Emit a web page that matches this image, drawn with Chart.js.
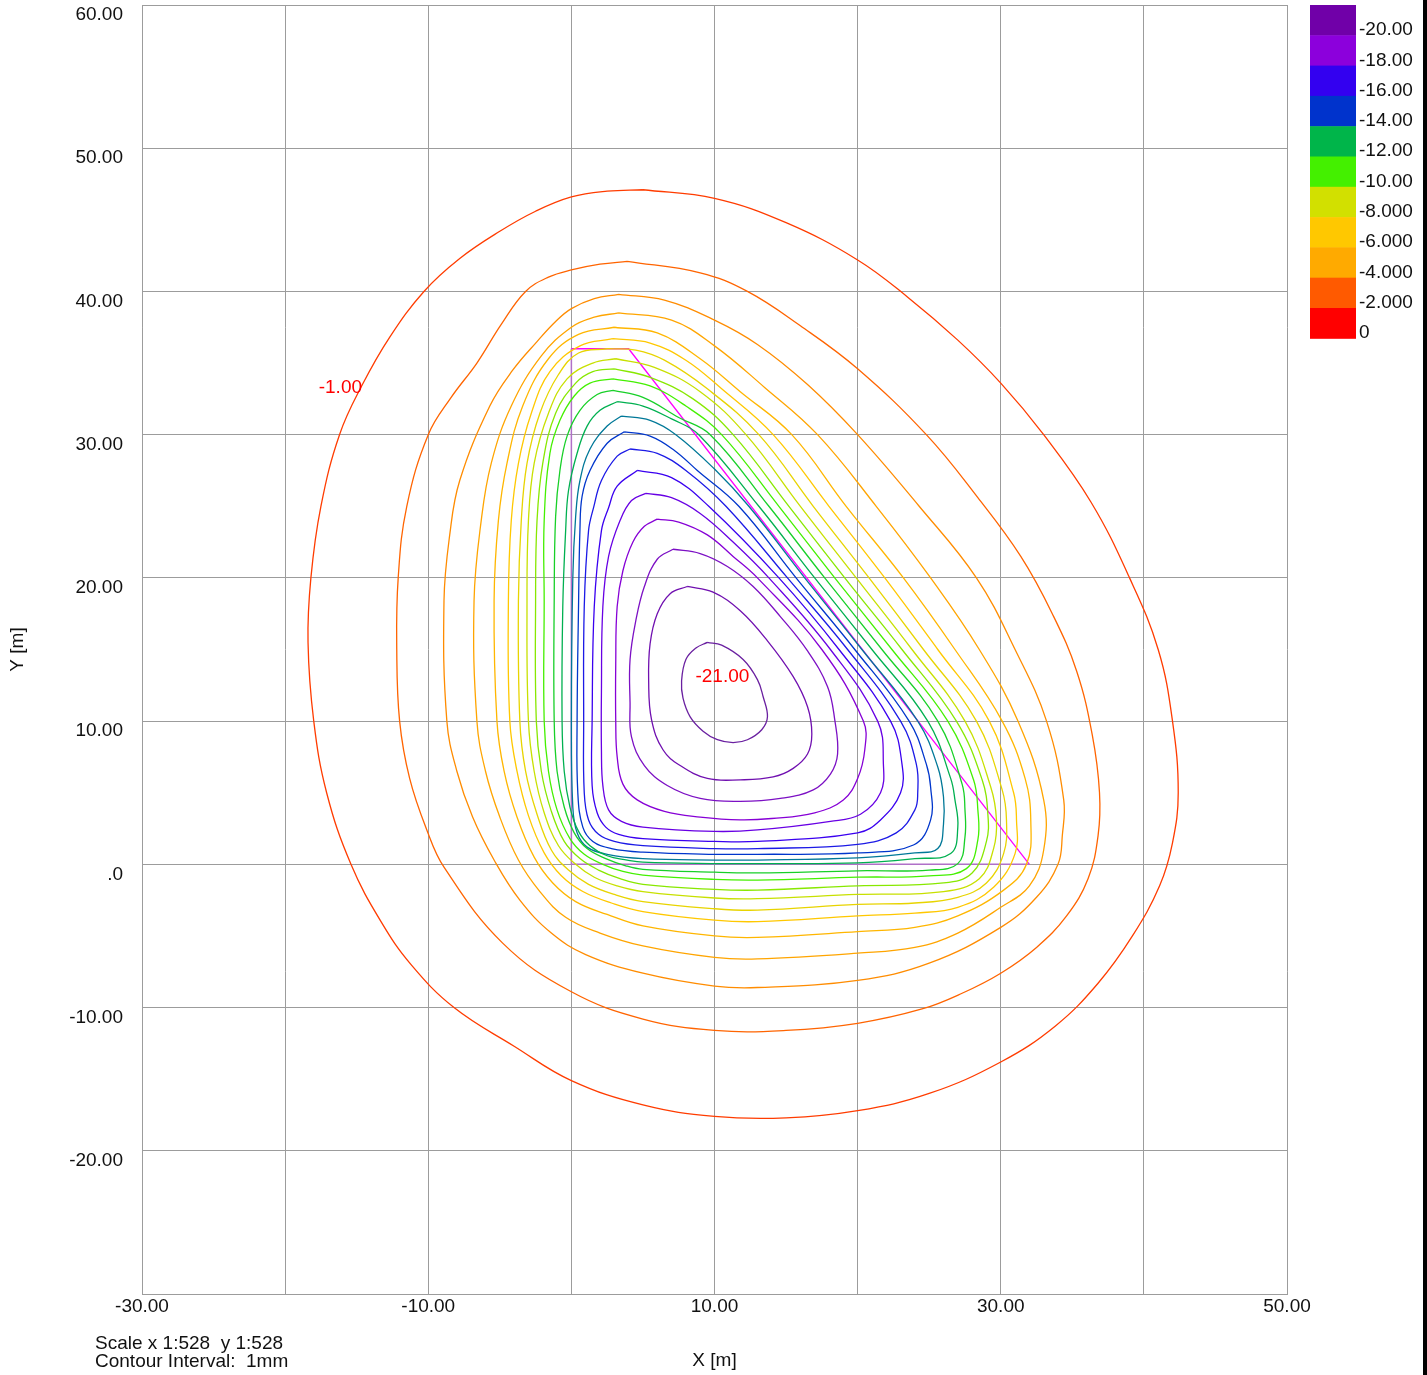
<!DOCTYPE html>
<html>
<head>
<meta charset="utf-8">
<title>Settlement contours</title>
<script src="https://cdn.jsdelivr.net/npm/chart.js@4.4.1/dist/chart.umd.min.js"></script>
<style>
  html, body { margin: 0; padding: 0; background: #fff; }
  #wrap { width: 1427px; height: 1375px; }
</style>
</head>
<body>
<div id="wrap"><canvas id="plot" width="1427" height="1375"></canvas></div>
<script>
// contour levels (mm) and their line colours
const contourLevels = [-1, -2, -3, -4, -5, -6, -7, -8, -9, -10, -11, -12, -13, -14, -15, -16, -17, -18, -19, -20, -21];
const contourColors = ['#ff3c00', '#ff6400', '#ff8c00', '#ffa500', '#ffb600', '#ffc800', '#e8d400', '#c8e000', '#88e800', '#44f000',
                       '#18d028', '#00b050', '#007898', '#0036cc', '#1c1ae6', '#3a00f0', '#6800e4', '#8600d6', '#7c10c4', '#7010b0', '#6a20a0'];

// contour lines, [x, y] in metres
const contour_m1 = [[5,47.1],[10,46.5],[15,44.8],[20,42.2],[23.5,39.6],[27,36.6],[30,33.6],[33,30],[36.3,25.3],[39.0,20],[41.0,15],[42.0,10],[42.4,5],[42.0,1.5],[41.1,-1.5],[39.2,-5],[36.8,-8.3],[33.8,-11.3],[30,-13.8],[25,-16.0],[20,-17.2],[15,-17.7],[10,-17.6],[5,-16.8],[0,-15.1],[-4,-12.7],[-8.2,-10],[-11.2,-7],[-13.3,-4],[-15.4,0],[-17.1,5],[-18.0,10],[-18.4,15.5],[-18.2,20],[-17.5,25],[-16.2,30],[-14.6,33.5],[-12.7,36.8],[-10.3,40],[-7.8,42.3],[-5,44.2],[-2.5,45.6],[0,46.6],[2.5,47.0],[5,47.1]];
const contour_m2 = [[3.9,42.1],[9,41.3],[12.3,40],[16,37.6],[20,34.6],[24.8,30],[28.4,25.6],[31.4,21.5],[33.6,17.5],[35.3,13.5],[36.4,9],[36.9,5],[36.8,2],[36.1,-1],[34.6,-3.6],[32.5,-5.8],[30,-7.6],[27.3,-9],[24.5,-10.1],[20,-11.1],[15,-11.6],[10,-11.6],[5,-10.8],[0,-8.9],[-4.8,-5.5],[-8.9,-0.2],[-10.1,2.4],[-11.3,6],[-12,10],[-12.2,15],[-12.1,20],[-11.5,25],[-10,30],[-8.4,32.6],[-6.6,35],[-4.9,37.7],[-3.2,40],[-1.6,41.0],[0,41.5],[2,41.9],[3.9,42.1]];
const contour_m3 = [[3.3,39.8],[6.5,39.4],[10,38.0],[13,36.3],[16.5,33.5],[20,30],[24.3,25],[28.3,20],[31.0,15],[33.2,10],[34.4,4.5],[34.3,2],[34.0,0],[32.5,-2.3],[30,-4.4],[25,-6.9],[20,-8.1],[13,-8.6],[10,-8.5],[5,-7.6],[1,-6.3],[-1.4,-4.8],[-3.6,-2.5],[-5.4,0.3],[-6.9,3.3],[-8.0,6.5],[-8.7,10],[-8.9,18.4],[-8.5,23],[-7.8,26.8],[-5.7,32],[-4.1,34.5],[-2.4,36.5],[-1.1,37.9],[0,38.8],[1.6,39.5],[3.3,39.8]];
const contour_m4 = [[3.3,38.5],[7,38.0],[10,36.2],[13.5,33.3],[17.2,30],[21.3,25],[25.1,20],[28.5,15],[31.2,10],[33.0,4.5],[33.0,1],[32.0,-1.5],[30,-3.0],[27,-4.8],[24,-5.8],[20,-6.2],[13,-6.6],[10,-6.5],[5,-5.7],[2,-4.8],[-0.4,-3.7],[-2.2,-1.9],[-3.7,0.3],[-5.0,3.3],[-6.0,6.5],[-6.6,10],[-6.8,18.4],[-6.3,24],[-5.6,28],[-4.2,32],[-2.1,35.5],[0,37.5],[1.6,38.2],[3.3,38.5]];
const contour_m5 = [[3.0,37.5],[6,37.1],[9,35.3],[11.8,33],[15.4,30],[19.2,25],[23.2,20],[26.8,15],[30.1,10],[31.7,6],[32.1,3],[31.8,0],[30.2,-1.8],[27,-3.6],[24,-4.4],[20,-4.7],[13,-5.1],[10,-5.0],[5,-4.3],[2.5,-3.5],[0.3,-2.6],[-1.3,-1.3],[-2.6,0.5],[-3.8,3.3],[-4.7,6.5],[-5.2,10],[-5.4,18.4],[-5.1,24],[-4.5,28],[-3.4,32],[-1.6,35.3],[0.5,37.0],[3.0,37.5]];
const contour_m6 = [[2.9,36.7],[5.5,36.4],[8,35.2],[10.5,33.2],[14.1,30],[18.0,25],[21.9,20],[25.6,15],[29.2,10],[30.9,5],[31.1,3.1],[31.0,0.75],[29.5,-1.6],[27,-3.0],[24,-3.4],[20,-3.6],[13,-4.0],[10,-3.9],[5,-3.3],[2.8,-2.7],[0.8,-1.9],[-0.7,-0.8],[-1.9,0.8],[-3.0,3.4],[-3.8,6.5],[-4.3,10],[-4.4,18.4],[-4.2,24],[-3.7,28],[-2.8,31.5],[-1.5,34.4],[0.6,36.2],[2.9,36.7]];
const contour_m7 = [[2.5,36.0],[4.5,35.9],[6.5,35.2],[9.5,33.2],[13.1,30],[16.9,25],[20.8,20],[24.6,15],[28.3,10],[30.1,5.2],[30.4,3.1],[30.2,0.75],[29,-1.3],[27,-2.3],[24,-2.7],[20,-2.8],[13,-3.2],[10,-3.1],[5,-2.6],[3.0,-2.1],[1.2,-1.4],[-0.2,-0.4],[-1.4,1.0],[-2.4,3.5],[-3.2,6.5],[-3.6,10],[-3.7,18.4],[-3.5,24],[-3.1,28],[-2.2,31.5],[-0.9,34.2],[0.5,35.7],[2.5,36.0]];
const contour_m8 = [[3.1,35.3],[5.8,34.7],[9,33],[12.2,30],[16.0,25],[19.9,20],[23.8,15],[27.5,10],[29.3,5.4],[29.7,3.1],[29.5,1.1],[28.5,-1],[26,-1.9],[20,-2.1],[13,-2.4],[10,-2.35],[5,-1.9],[3.2,-1.5],[1.6,-0.9],[0.3,0.0],[-0.9,1.3],[-1.9,3.6],[-2.6,6.5],[-3.0,10],[-3.1,18.4],[-3.0,24],[-2.6,28],[-1.6,31.5],[-0.3,33.9],[1.5,35.0],[3.1,35.3]];
const contour_m9 = [[3.0,34.6],[5.5,34.0],[8.5,32.5],[11.3,30],[15.2,25],[19.1,20],[23.1,15],[26.9,10],[28.7,5.9],[29.1,3.5],[29.0,1.6],[28,-0.6],[26,-1.3],[20,-1.5],[13,-1.8],[10,-1.75],[5,-1.4],[3.4,-1.0],[1.9,-0.4],[0.6,0.4],[-0.5,1.6],[-1.4,3.7],[-2.1,6.5],[-2.45,10],[-2.5,18.4],[-2.4,24],[-2.0,28],[-1.1,31.5],[0.3,33.6],[1.5,34.4],[3.0,34.6]];
const contour_m10 = [[2.9,33.9],[5.5,33.4],[8,32],[10.5,30],[14.5,25],[18.4,20],[22.4,15],[26.3,10],[28.1,5.9],[28.4,3.8],[28.4,1.7],[27.6,-0.3],[25,-0.8],[20,-0.9],[13,-1.1],[10,-1.05],[5,-0.75],[3.6,-0.5],[2.2,0.0],[0.9,0.7],[-0.1,1.8],[-1.0,3.8],[-1.6,6.5],[-1.9,10],[-1.9,18.4],[-1.9,24],[-1.5,28.7],[-0.8,31.0],[0.2,32.7],[1.3,33.6],[2.9,33.9]];
const contour_m11 = [[2.9,33.1],[5,32.6],[7.5,31.2],[9.7,30],[13.8,25],[17.7,20],[21.7,15],[25.6,10],[27.3,5.6],[27.5,3.8],[27.5,1.9],[27.0,0.05],[25,-0.4],[20,-0.45],[13,-0.6],[10,-0.55],[5,-0.35],[3.8,-0.1],[2.4,0.4],[1.1,1.1],[0.2,2.2],[-0.5,4.0],[-1.0,6.5],[-1.2,10],[-1.2,18.4],[-1.1,24.3],[-0.8,27.5],[-0.3,29.9],[0.6,31.7],[1.8,32.8],[2.9,33.1]];
const contour_m12 = [[3.2,32.3],[5,32.0],[7,31.1],[8.9,30],[13.1,25],[17.0,20],[21.0,15],[24.9,10],[26.5,6],[26.8,4.5],[27.0,2.6],[26.5,0.75],[24,0.4],[20,0.1],[13,0.05],[10,0.05],[5,0.15],[3.9,0.3],[2.5,0.6],[1.3,1.3],[0.5,2.3],[-0.1,4.0],[-0.5,6.5],[-0.65,10],[-0.6,18],[-0.4,23.3],[-0.2,26.1],[0.4,28.7],[1.1,30.6],[2.0,31.7],[3.2,32.3]];
const contour_m13 = [[3.5,31.3],[5.5,31.0],[7.3,30],[10,27.6],[12.4,25],[16.3,20],[20.3,15],[24.2,10],[25.6,6.8],[26.0,4.7],[26.0,2.8],[25.6,1.1],[24,0.8],[20,0.45],[13,0.3],[10,0.3],[5,0.4],[2.5,0.7],[1.1,1.2],[0.4,2.2],[0.1,4],[0,10],[0.1,20],[0.3,24.3],[0.6,26.8],[1.3,29.0],[2.5,30.6],[3.5,31.3]];
const contour_m14 = [[3.7,30.2],[5.5,29.9],[7.2,28.9],[8.8,27.5],[11.7,25],[15.7,20],[19.8,15],[23.6,10],[24.8,7],[25.1,5.4],[25.1,3.1],[23.9,1.35],[20,0.8],[13,0.7],[10,0.7],[5,0.85],[2.8,1.1],[1.5,1.6],[0.8,2.6],[0.45,5],[0.4,10],[0.5,18],[0.6,23.4],[0.75,25.7],[1.3,27.5],[2.5,29.4],[3.7,30.2]];
const contour_m15 = [[4.1,29.0],[6,28.7],[8,27.5],[10.8,25],[15.1,20],[19.3,15],[23.0,10],[24.1,7],[24.2,5],[24.0,3.8],[22.7,2.2],[20,1.4],[13,1.1],[10,1.1],[5,1.3],[3,1.6],[1.9,2.1],[1.2,3.1],[0.9,5],[0.86,10],[0.9,18],[1.2,23.3],[1.55,24.9],[2.1,26.8],[3.2,28.5],[4.1,29.0]];
const contour_m16 = [[4.6,27.5],[7,27.0],[9.6,25],[14.5,20],[18.7,15],[22.3,10],[23.1,7],[23.0,5],[21.6,3.1],[20,2.2],[13,1.6],[10,1.6],[5,1.8],[3.3,2.1],[2.4,2.6],[1.8,3.6],[1.45,5.5],[1.45,10],[1.6,18],[2.1,23.3],[2.6,24.9],[3.2,26.4],[4.6,27.5]];
const contour_m17 = [[5.2,25.9],[7,25.6],[9,24.5],[11.3,22.5],[13.8,20],[18.1,15],[21.4,10],[21.8,7],[21.6,5],[20.2,3.5],[18.1,3.0],[13,2.4],[10,2.3],[5,2.6],[3.5,3.0],[2.6,3.8],[2.2,5.5],[2.1,8],[2.1,12],[2.2,18],[2.6,21.5],[3.4,24],[4.2,25.4],[5.2,25.9]];
const contour_m18 = [[6.0,24.1],[7.5,23.9],[9.5,23.0],[11.3,21.5],[13,20],[17.5,15],[20.4,10],[20.5,8],[20.0,6],[19.0,4.5],[17,3.6],[14,3.2],[11.8,3.1],[9,3.3],[6.5,3.7],[4.6,4.5],[3.6,5.6],[3.2,7.5],[3.1,10],[3.1,14],[3.2,18],[3.6,20.5],[4.3,22.5],[5.1,23.6],[6.0,24.1]];
const contour_m19 = [[7.1,22.0],[9.0,21.7],[10.9,20.8],[12.7,19.4],[14.6,17.3],[16.5,14.9],[17.9,12.4],[18.4,10.1],[18.6,7.7],[18.1,6.3],[16.9,5.2],[14.6,4.6],[11.8,4.4],[9.0,4.6],[6.7,5.5],[5.1,6.9],[4.2,8.9],[4.1,11.3],[4.1,14.3],[4.5,17.0],[5.1,19.4],[6.0,21.3],[7.1,22.0]];
const contour_m20 = [[8.1,19.4],[9.9,19.0],[11.8,17.7],[13.7,15.6],[15.5,13.1],[16.5,11.0],[16.8,9.1],[16.5,7.7],[15.5,6.7],[14.1,6.1],[11.8,5.9],[9.5,6.0],[7.6,6.9],[6.4,8.0],[5.6,10.1],[5.4,12.8],[5.5,15.4],[6.0,17.5],[6.9,18.9],[8.1,19.4]];
const contour_m21 = [[9.5,15.5],[10.5,15.3],[12.0,14.3],[13.0,12.9],[13.4,11.7],[13.7,10.3],[13.3,9.4],[12.3,8.7],[11.3,8.5],[10.2,8.7],[9.2,9.3],[8.3,10.3],[7.8,11.6],[7.7,12.8],[8.0,14.3],[8.7,15.1],[9.5,15.5]];
const contours = [contour_m1, contour_m2, contour_m3, contour_m4, contour_m5, contour_m6, contour_m7, contour_m8, contour_m9, contour_m10, contour_m11,
                  contour_m12, contour_m13, contour_m14, contour_m15, contour_m16, contour_m17, contour_m18, contour_m19, contour_m20, contour_m21];

// footing outline
const footingEdge = [[0,36],[4,36],[32,0]];
const footingBase = [[32,0],[0,0],[0,36]];

// labels written on the contours
const labelTexts = ['-1.00', '-21.00'];
const labelX = [-16.14, 10.55];
const labelY = [33.3, 13.1];

// axis ticks
const xTickLabels = [-30, -10, 10, 30, 50];
const yTickLabels = [60, 50, 40, 30, 20, 10, 0, -10, -20];

// colour bar
const legendLabels = ['-20.00', '-18.00', '-16.00', '-14.00', '-12.00', '-10.00', '-8.000', '-6.000', '-4.000', '-2.000', '0'];
const legendColors = ['#7000a8', '#8c00dc', '#3300f0', '#0033cc', '#00b54a', '#44f000', '#d2e000', '#ffc800', '#ffaa00', '#ff5a00', '#ff0000'];

const footnotes = ['Scale x 1:528  y 1:528', 'Contour Interval:  1mm'];

const FONT = '"Liberation Sans", Arial, sans-serif';
const GRID = '#9c9c9c';

const datasets = [];
contours.forEach(function (pts, i) {
    datasets.push({
        label: String(contourLevels[i]),
        data: pts.map(function (p) { return {x: p[0], y: p[1]}; }),
        borderColor: contourColors[i],
        borderWidth: 1.3,
        showLine: true,
        tension: 0.4,
        pointRadius: 0,
        fill: false
    });
});
datasets.push({
    label: 'footing base',
    data: footingBase.map(function (p) { return {x: p[0], y: p[1]}; }),
    borderColor: '#b070c8', borderWidth: 1.5, showLine: true, tension: 0, pointRadius: 0, fill: false
});
datasets.push({
    label: 'footing',
    data: footingEdge.map(function (p) { return {x: p[0], y: p[1]}; }),
    borderColor: '#ff00ff', borderWidth: 1.3, showLine: true, tension: 0, pointRadius: 0, fill: false
});

const decorations = {
    id: 'decorations',
    afterDraw: function (chart) {
        const ctx = chart.ctx;
        const xs = chart.scales.x, ys = chart.scales.y, area = chart.chartArea;
        ctx.save();
        // contour value labels
        ctx.font = '19px ' + FONT;
        ctx.fillStyle = '#ff0000';
        ctx.textAlign = 'center';
        ctx.textBaseline = 'middle';
        labelTexts.forEach(function (t, i) {
            ctx.fillText(t, xs.getPixelForValue(labelX[i]), ys.getPixelForValue(labelY[i]));
        });
        // colour bar
        const bx = 1310, bw = 46, top = 5, bh = 30.3;
        legendColors.forEach(function (c, i) {
            ctx.fillStyle = c;
            ctx.fillRect(bx, top + i * bh, bw, bh + 0.5);
        });
        ctx.fillStyle = '#111';
        ctx.textAlign = 'left';
        legendLabels.forEach(function (t, i) {
            ctx.fillText(t, bx + 49, top + i * bh + 25);
        });
        // axis titles
        ctx.textAlign = 'center';
        ctx.fillText('X [m]', (area.left + area.right) / 2, 1361);
        ctx.save();
        ctx.translate(18, (area.top + area.bottom) / 2);
        ctx.rotate(-Math.PI / 2);
        ctx.fillText('Y [m]', 0, 0);
        ctx.restore();
        // footnotes
        ctx.textAlign = 'left';
        footnotes.forEach(function (t, i) {
            ctx.fillText(t, 95, 1344 + i * 18);
        });
        // right edge bar
        ctx.fillStyle = '#000';
        ctx.fillRect(1423, 0, 4, 1375);
        ctx.restore();
    }
};

new Chart(document.getElementById('plot'), {
    type: 'scatter',
    data: {datasets: datasets},
    options: {
        responsive: false,
        animation: false,
        events: [],
        layout: {padding: {top: 5, right: 140, bottom: 0, left: 0}},
        plugins: {legend: {display: false}, tooltip: {enabled: false}},
        scales: {
            x: {
                type: 'linear', min: -30, max: 50,
                afterFit: function (s) { s.height = 81; s.paddingLeft = 0; s.paddingRight = 0; },
                border: {color: GRID},
                grid: {color: GRID, drawTicks: false},
                ticks: {
                    stepSize: 10, autoSkip: false, maxRotation: 0, padding: 1,
                    color: '#111', font: {family: FONT, size: 19},
                    callback: function (v) { return xTickLabels.indexOf(v) >= 0 ? v.toFixed(2) : ''; }
                }
            },
            y: {
                type: 'linear', min: -30, max: 60,
                afterFit: function (s) { s.width = 142; s.paddingTop = 0; s.paddingBottom = 0; },
                border: {color: GRID},
                grid: {color: GRID, drawTicks: false},
                ticks: {
                    stepSize: 10, autoSkip: false, padding: 19, labelOffset: 10,
                    color: '#111', font: {family: FONT, size: 19},
                    callback: function (v) {
                        if (yTickLabels.indexOf(v) < 0) return '';
                        return v === 0 ? '.0' : v.toFixed(2);
                    }
                }
            }
        }
    },
    plugins: [decorations]
});
</script>
</body>
</html>
